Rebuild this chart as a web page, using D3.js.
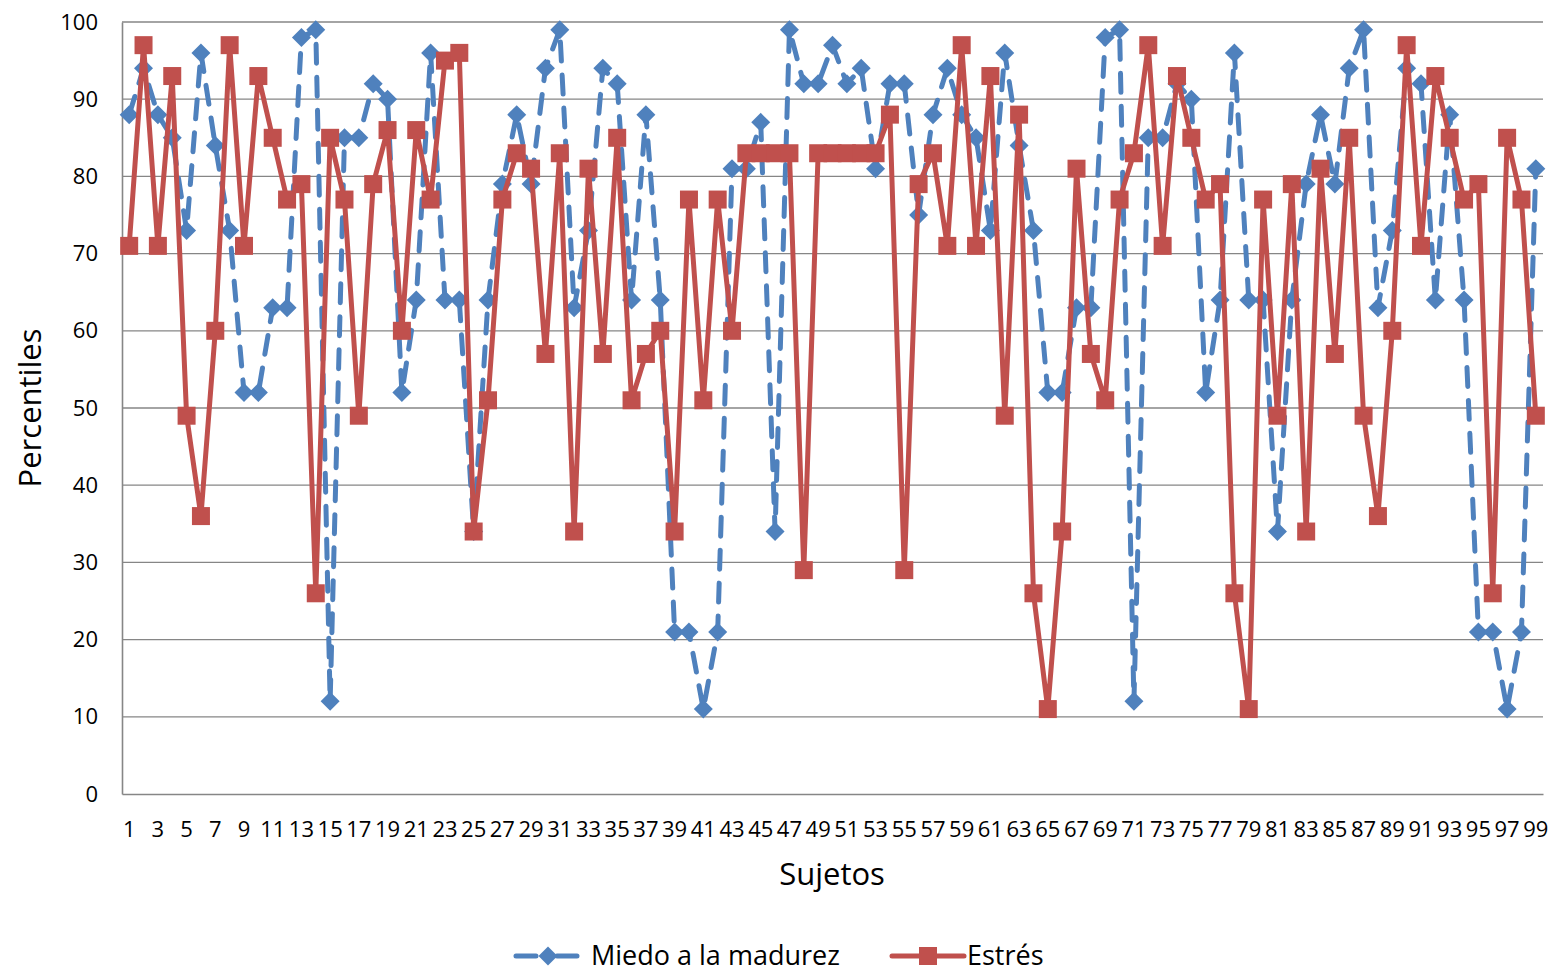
<!DOCTYPE html>
<html>
<head>
<meta charset="utf-8">
<script src="https://cdnjs.cloudflare.com/ajax/libs/d3/7.8.5/d3.min.js"></script>
<style>
  body { margin: 0; background: #fff; }
  svg { display: block; font-family: "Open Sans", "Liberation Sans", sans-serif; }
  .tick text { fill: #000; }
</style>
</head>
<body>
<div id="chart"></div>
<script>
// Sujetos 1..99
const subjects = d3.range(1, 100);

// Miedo a la madurez (percentiles)
const miedo = [
  88, 94, 88, 85, 73, 96, 84, 73, 52, 52,
  63, 63, 98, 99, 12, 85, 85, 92, 90, 52,
  64, 96, 64, 64, 34, 64, 79, 88, 79, 94,
  99, 63, 73, 94, 92, 64, 88, 64, 21, 21,
  11, 21, 81, 81, 87, 34, 99, 92, 92, 97,
  92, 94, 81, 92, 92, 75, 88, 94, 88, 85,
  73, 96, 84, 73, 52, 52, 63, 63, 98, 99,
  12, 85, 85, 92, 90, 52, 64, 96, 64, 64,
  34, 64, 79, 88, 79, 94, 99, 63, 73, 94,
  92, 64, 88, 64, 21, 21, 11, 21, 81
];

// Estrés (percentiles)
const estres = [
  71, 97, 71, 93, 49, 36, 60, 97, 71, 93,
  85, 77, 79, 26, 85, 77, 49, 79, 86, 60,
  86, 77, 95, 96, 34, 51, 77, 83, 81, 57,
  83, 34, 81, 57, 85, 51, 57, 60, 34, 77,
  51, 77, 60, 83, 83, 83, 83, 29, 83, 83,
  83, 83, 83, 88, 29, 79, 83, 71, 97, 71,
  93, 49, 88, 26, 11, 34, 81, 57, 51, 77,
  83, 97, 71, 93, 85, 77, 79, 26, 11, 77,
  49, 79, 34, 81, 57, 85, 49, 36, 60, 97,
  71, 93, 85, 77, 79, 26, 85, 77, 49
];

const yTicks = d3.range(0, 101, 10);
const xTickLabels = subjects.filter(d => d % 2 === 1);

const width = 1554;
const height = 972;
const plot = { left: 122, right: 1543, top: 22, bottom: 794 };

const blue = '#4F81BD';
const red = '#C0504D';
const grid = '#868686';

const svg = d3.select('#chart')
  .append('svg')
  .attr('width', width)
  .attr('height', height);

const x = d3.scaleBand()
  .domain(subjects)
  .range([plot.left, plot.right])
  .padding(0);

const cx = d => x(d) + x.bandwidth() / 2;

const y = d3.scaleLinear()
  .domain([0, 100])
  .range([plot.bottom, plot.top]);

// gridlines
svg.append('g')
  .selectAll('line')
  .data(yTicks.filter(t => t > 0))
  .join('line')
  .attr('x1', plot.left)
  .attr('x2', plot.right)
  .attr('y1', d => y(d))
  .attr('y2', d => y(d))
  .attr('stroke', grid)
  .attr('stroke-width', 1.3);

// y axis
const yAxis = svg.append('g')
  .attr('transform', `translate(${plot.left},0)`)
  .call(d3.axisLeft(y).tickValues(yTicks).tickSize(0).tickPadding(24));
yAxis.select('.domain').attr('stroke', grid).attr('stroke-width', 1.6);
yAxis.selectAll('text').attr('font-size', 22).attr('font-family', '"Open Sans", sans-serif');

// x axis
const xAxis = svg.append('g')
  .attr('transform', `translate(0,${plot.bottom})`)
  .call(d3.axisBottom(x).tickValues(xTickLabels).tickSize(0).tickPadding(27));
xAxis.select('.domain').attr('stroke', grid).attr('stroke-width', 1.6);
xAxis.selectAll('text').attr('font-size', 22).attr('font-family', '"Open Sans", sans-serif');

// axis titles
svg.append('text')
  .attr('transform', `translate(41,408) rotate(-90)`)
  .attr('text-anchor', 'middle')
  .attr('font-size', 31)
  .text('Percentiles');

svg.append('text')
  .attr('x', 832)
  .attr('y', 885)
  .attr('text-anchor', 'middle')
  .attr('font-size', 31)
  .text('Sujetos');

const line = d3.line()
  .x((d, i) => cx(subjects[i]))
  .y(d => y(d));

const diamond = (size) => `M0,${-size}L${size},0L0,${size}L${-size},0Z`;

// Miedo a la madurez series
svg.append('path')
  .datum(miedo)
  .attr('d', line)
  .attr('fill', 'none')
  .attr('stroke', blue)
  .attr('stroke-width', 5)
  .attr('stroke-dasharray', '19,14')
  .attr('stroke-linecap', 'round')
  .attr('stroke-linejoin', 'round');

svg.append('g')
  .selectAll('path')
  .data(miedo)
  .join('path')
  .attr('d', diamond(9.5))
  .attr('transform', (d, i) => `translate(${cx(subjects[i])},${y(d)})`)
  .attr('fill', blue);

// Estrés series
svg.append('path')
  .datum(estres)
  .attr('d', line)
  .attr('fill', 'none')
  .attr('stroke', red)
  .attr('stroke-width', 5)
  .attr('stroke-linejoin', 'round');

svg.append('g')
  .selectAll('rect')
  .data(estres)
  .join('rect')
  .attr('x', (d, i) => cx(subjects[i]) - 9)
  .attr('y', d => y(d) - 9)
  .attr('width', 18)
  .attr('height', 18)
  .attr('fill', red);

// legend
const legendY = 956;
const legend = svg.append('g');

legend.append('line')
  .attr('x1', 516).attr('x2', 577)
  .attr('y1', legendY).attr('y2', legendY)
  .attr('stroke', blue)
  .attr('stroke-width', 5)
  .attr('stroke-dasharray', '20,21')
  .attr('stroke-linecap', 'round');
legend.append('path')
  .attr('d', diamond(9.5))
  .attr('transform', `translate(548,${legendY})`)
  .attr('fill', blue);
legend.append('text')
  .attr('x', 591)
  .attr('y', legendY + 9)
  .attr('font-size', 27)
  .text('Miedo a la madurez');

legend.append('line')
  .attr('x1', 892).attr('x2', 964)
  .attr('y1', legendY).attr('y2', legendY)
  .attr('stroke', red)
  .attr('stroke-width', 5)
  .attr('stroke-linecap', 'round');
legend.append('rect')
  .attr('x', 928 - 9)
  .attr('y', legendY - 9)
  .attr('width', 18)
  .attr('height', 18)
  .attr('fill', red);
legend.append('text')
  .attr('x', 967)
  .attr('y', legendY + 9)
  .attr('font-size', 27)
  .text('Estrés');
</script>
</body>
</html>
